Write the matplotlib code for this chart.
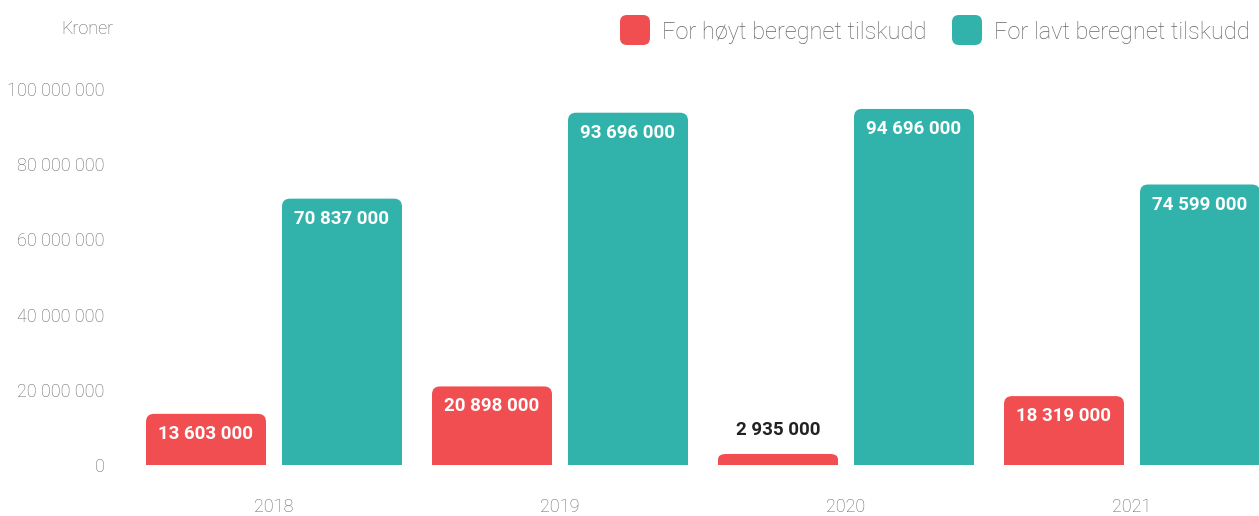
import matplotlib
matplotlib.use("Agg")
import matplotlib.pyplot as plt
from matplotlib.patches import FancyBboxPatch, Rectangle

years = ["2018", "2019", "2020", "2021"]
for_hoyt = [13603000, 20898000, 2935000, 18319000]
for_lavt = [70837000, 93696000, 94696000, 74599000]
series_names = ["For høyt beregnet tilskudd", "For lavt beregnet tilskudd"]
yticks = [0, 20000000, 40000000, 60000000, 80000000, 100000000]

RED = "#f04e51"
TEAL = "#31b3ab"
GREY = "#666666"

W, H = 1259, 516
plt.rcParams["font.family"] = ["Roboto", "DejaVu Sans"]


def fmt(v):
    return "{:,}".format(int(v)).replace(",", " ")


def rounded(ax, bar, color, r_px=8):
    # swap a plain bar for one with rounded top corners
    x, y = bar.get_x(), bar.get_y()
    w, h = bar.get_width(), bar.get_height()
    bar.set_visible(False)
    sx = ax.transData.transform((1, 0))[0] - ax.transData.transform((0, 0))[0]
    sy = ax.transData.transform((0, 1))[1] - ax.transData.transform((0, 0))[1]
    rx = r_px / sx
    ry = r_px / sy
    asp = ry / rx
    if h < 2 * ry:
        asp = (h / 2) / rx
    p = FancyBboxPatch((x, y), w, h, boxstyle="round,pad=0,rounding_size=%f" % rx,
                       mutation_aspect=asp, fc=color, ec="none", lw=0)
    ax.add_patch(p)
    ax.add_patch(Rectangle((x, y), w, h / 2, fc=color, ec="none", lw=0))


fig = plt.figure(figsize=(W / 100, H / 100), dpi=100)
ax = fig.add_axes([131 / W, 51 / H, 1144 / W, 376 / H])
ax.set_xlim(-0.5, 3.5)
ax.set_ylim(0, 100000000)

xs = list(range(len(years)))
bw = 120 / 286
off = 68 / 286
b1 = ax.bar([x - off for x in xs], for_hoyt, width=bw, color=RED)
b2 = ax.bar([x + off for x in xs], for_lavt, width=bw, color=TEAL)
fig.canvas.draw()

for bars, color, vals in [(b1, RED, for_hoyt), (b2, TEAL, for_lavt)]:
    for bar, v in zip(bars, vals):
        rounded(ax, bar, color)
        cx = bar.get_x() + bar.get_width() / 2
        if v > 8000000:
            ax.annotate(fmt(v), (cx, v), xytext=(0, -20), textcoords="offset pixels",
                        ha="center", va="center", color="white", fontsize=13.5,
                        fontweight="bold")
        else:
            ax.annotate(fmt(v), (cx, v), xytext=(0, 24), textcoords="offset pixels",
                        ha="center", va="center", color="#222222", fontsize=13.5,
                        fontweight="bold")

for s in ax.spines.values():
    s.set_visible(False)
ax.set_yticks(yticks)
ax.set_yticklabels([fmt(t) for t in yticks])
ax.set_xticks(xs)
ax.set_xticklabels(years)
ax.tick_params(length=0, colors=GREY, labelsize=13)
ax.tick_params(axis="y", pad=19)
ax.tick_params(axis="x", pad=24)
for lab in ax.get_xticklabels() + ax.get_yticklabels():
    lab.set_fontweight("light")

fig.text(113 / W, 1 - 29 / H, "Kroner", ha="right", va="center", color=GREY,
         fontsize=13, fontweight="light")

# legend
for lx, tx, color, name in [(620, 662, RED, series_names[0]), (952, 994, TEAL, series_names[1])]:
    fig.patches.append(FancyBboxPatch((lx / W, 1 - 45 / H), 30 / W, 30 / H,
                                      boxstyle="round,pad=0,rounding_size=%f" % (7 / W),
                                      mutation_aspect=W / H, fc=color, ec="none",
                                      transform=fig.transFigure, figure=fig))
    fig.text(tx / W, 1 - 33 / H, name, ha="left", va="center", color=GREY,
             fontsize=17, fontweight="light")

fig.savefig("out.png", dpi=100)
